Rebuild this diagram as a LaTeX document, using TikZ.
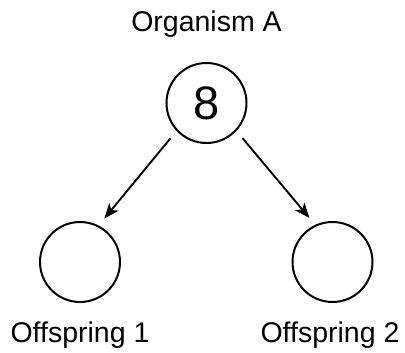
\documentclass[tikz,border=0pt]{standalone}
\usepackage{fontspec}
\setmainfont{Liberation Sans}
\usetikzlibrary{arrows.meta}

\tikzset{
	cell/.style = {circle, draw, line width = 2pt, minimum size = 80pt, inner sep = 0pt},
	label/.style = {anchor = base, font = \fontsize{28.5}{32}\selectfont},
	arr/.style = {line width = 1.9pt, -{Stealth[length = 15pt, width = 12pt, inset = 4pt]}, shorten < = 9.5pt, shorten > = 9pt}
}

\begin{document}
\begin{tikzpicture}[x = 1pt, y = -1pt]
		\useasboundingbox (0,0) rectangle (405,353);
		
		\node[cell, font = \fontsize{47}{50}\selectfont] (parent) at (206.5,103) {8};
		\node[cell] (child1) at (80,262) {};
		\node[cell] (child2) at (332.5,262) {};
		
		\node[label] (nameA) at (206.5,32) {Organism A};
		\node[label] (name1) at (80,342) {Offspring 1};
		\node[label] (name2) at (330,342) {Offspring 2};
		
		\draw[arr] (parent.223) -- (child1.63);
		\draw[arr] (parent.317) -- (child2.115);
		\end{tikzpicture}
\end{document}
